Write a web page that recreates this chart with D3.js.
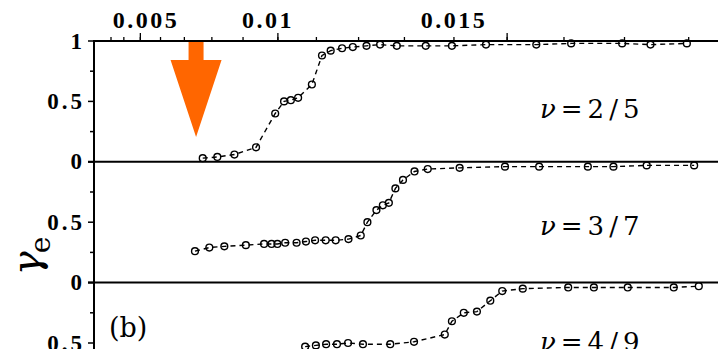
<!DOCTYPE html>
<html>
<head>
<meta charset="utf-8">
<script src="https://cdn.jsdelivr.net/npm/d3@7"></script>
<style>
  body { margin: 0; background: #fff; }
  text { font-family: "DejaVu Serif", serif; fill: #000; }
  .num { font-family: "Liberation Serif", serif; font-weight: bold; }
</style>
</head>
<body>
<script>
// x values (top axis), three panels of gamma_e
var xTicks = [0.003,0.004,0.005,0.006,0.007,0.008,0.009,0.010,0.011,0.012,0.013,0.014,0.015,0.016,0.017,0.018];
var xMajor = [0.005,0.010,0.015];
var xTickLabels = ["0.005","0.01","0.015"];
var yTicks = [0,0.25,0.5,0.75,1];
var yMajor = [0,0.5,1];

var nu25X = [0.00770,0.00820,0.00875,0.00940,0.00994,0.01018,0.01036,0.01055,0.01090,0.01115,0.01136,0.01163,
             0.01188,0.01219,0.01249,0.01285,0.01345,0.01397,0.01462,0.01553,0.01613,0.01697,0.01742,0.01798];
var nu25Y = [0.03,0.04,0.06,0.12,0.40,0.50,0.51,0.53,0.64,0.88,0.92,0.94,
             0.95,0.96,0.97,0.96,0.96,0.96,0.97,0.97,0.98,0.98,0.97,0.98];

var nu37X = [0.00742,0.00793,0.00843,0.00910,0.00963,0.00984,0.01000,0.01021,0.01051,0.01075,0.01098,0.01124,
             0.01148,0.01178,0.01206,0.01221,0.01241,0.01255,0.01268,0.01282,0.01298,0.01322,0.01349,0.01412,
             0.01497,0.01558,0.01641,0.01683,0.01736,0.01809];
var nu37Y = [0.26,0.29,0.30,0.31,0.32,0.32,0.32,0.33,0.33,0.34,0.35,0.35,
             0.35,0.36,0.39,0.50,0.60,0.64,0.66,0.78,0.85,0.92,0.94,0.95,
             0.96,0.96,0.96,0.96,0.97,0.97];

var nu49X = [0.01073,0.01100,0.01125,0.01151,0.01177,0.01211,0.01271,0.01321,0.01383,0.01397,
             0.01420,0.01445,0.01470,0.01492,0.01529,0.01608,0.01651,0.01706,0.01778,0.01816];
var nu49Y = [0.47,0.48,0.49,0.49,0.50,0.49,0.49,0.51,0.57,0.68,
             0.75,0.76,0.85,0.93,0.95,0.96,0.96,0.96,0.96,0.97];

var panelNames = ["2/5","3/7","4/9"];
var panelTextY = [0.36,0.39,0.43];
var arrowX = 0.00746;

function myfun(){
    var width = 718, height = 349;
    var top = 41, ph = 120.8, left = 94;

    var svg = d3.select("body").append("svg")
                .attr("width",width)
                .attr("height",height);

    var x = d3.scalePow().exponent(2).domain([0,0.018446]).range([left,width]);
    // the printed labels sit a bit off their ticks in the original
    var labelX = d3.scaleLinear().domain(xMajor).range([146,268,454]);

    var panels = [
        {xs: nu25X, ys: nu25Y},
        {xs: nu37X, ys: nu37Y},
        {xs: nu49X, ys: nu49Y}
    ];
    panels.forEach(function(p,i){
        p.y = d3.scaleLinear().domain([0,1]).range([top+ph*(i+1), top+ph*i]);
        p.pts = p.xs.map(function(v,j){ return [v, p.ys[j]]; });
    });

    // arrow
    var ax = x(arrowX);
    svg.append("path")
        .attr("d","M"+(ax-7.5)+","+(top+1)+"H"+(ax+7.5)+"V60H"+(ax+25.5)+"L"+ax+",137L"+(ax-25.5)+",60H"+(ax-7.5)+"Z")
        .attr("fill","#ff6600");

    // top axis
    var minor = svg.append("g").attr("transform","translate(0,"+top+")")
        .call(d3.axisTop(x).tickValues(xTicks).tickSize(4).tickSizeOuter(0).tickFormat(""));
    minor.select(".domain").attr("stroke-width",2).attr("d","M"+(left-1)+",0H"+width);
    minor.selectAll(".tick line").attr("stroke-width",1.3);
    var major = svg.append("g").attr("transform","translate(0,"+top+")")
        .call(d3.axisTop(x).tickValues(xMajor).tickSize(8).tickSizeOuter(0).tickFormat(""));
    major.select(".domain").remove();
    major.selectAll(".tick line").attr("stroke-width",1.3);

    svg.selectAll(".xlab").data(xMajor).enter().append("text")
        .attr("class","xlab num")
        .attr("x",function(d){ return labelX(d); })
        .attr("y",28)
        .attr("text-anchor","middle")
        .attr("font-size",24)
        .attr("letter-spacing",2.5)
        .text(function(d,i){ return xTickLabels[i]; });

    // left axis line
    svg.append("line")
        .attr("x1",left).attr("x2",left)
        .attr("y1",top-1).attr("y2",height)
        .attr("stroke","#000").attr("stroke-width",2);

    panels.forEach(function(p,i){
        var g = svg.append("g");
        // ticks
        g.selectAll(".yt").data(yTicks).enter().append("line")
            .attr("x1",function(d){ return yMajor.indexOf(d) >= 0 ? left-6 : left-4; })
            .attr("x2",left)
            .attr("y1",function(d){ return p.y(d); })
            .attr("y2",function(d){ return p.y(d); })
            .attr("stroke","#000").attr("stroke-width",1.5);
        // zero line
        g.append("line")
            .attr("x1",left-6).attr("x2",width)
            .attr("y1",p.y(0)).attr("y2",p.y(0))
            .attr("stroke","#000").attr("stroke-width",2);
        var labs = i === 0 ? [1,0.5,0] : [0.5,0];
        g.selectAll(".yl").data(labs).enter().append("text")
            .attr("class","num")
            .attr("x",85)
            .attr("y",function(d){ return p.y(d)+7.5; })
            .attr("text-anchor","end")
            .attr("font-size",23)
            .attr("letter-spacing",3)
            .text(function(d){ return d; });

        var line = d3.line()
            .x(function(d){ return x(d[0]); })
            .y(function(d){ return p.y(d[1]); });
        g.append("path")
            .attr("d",line(p.pts))
            .attr("fill","none")
            .attr("stroke","#000")
            .attr("stroke-width",1.4)
            .attr("stroke-dasharray","5,4");
        g.selectAll("circle").data(p.pts).enter().append("circle")
            .attr("cx",function(d){ return x(d[0]); })
            .attr("cy",function(d){ return p.y(d[1]); })
            .attr("r",3.4)
            .attr("fill","none")
            .attr("stroke","#000")
            .attr("stroke-width",1.4);

        var t = g.append("text")
            .attr("x",540)
            .attr("y",p.y(panelTextY[i]))
            .attr("font-size",26)
            .attr("letter-spacing",5);
        t.append("tspan").attr("font-style","italic").text("ν");
        t.append("tspan").text("=" + panelNames[i]);
    });

    svg.append("text")
        .attr("x",109).attr("y",337)
        .attr("font-size",27)
        .text("(b)");

    var yl = svg.append("text")
        .attr("transform","translate(40,256) rotate(-90)")
        .attr("text-anchor","middle")
        .attr("font-size",40);
    yl.append("tspan").attr("font-style","italic").text("γ");
    yl.append("tspan").attr("font-size",28).attr("dx",-2).attr("dy",10).text("e");
}
window.onload = myfun;
</script>
</body>
</html>
